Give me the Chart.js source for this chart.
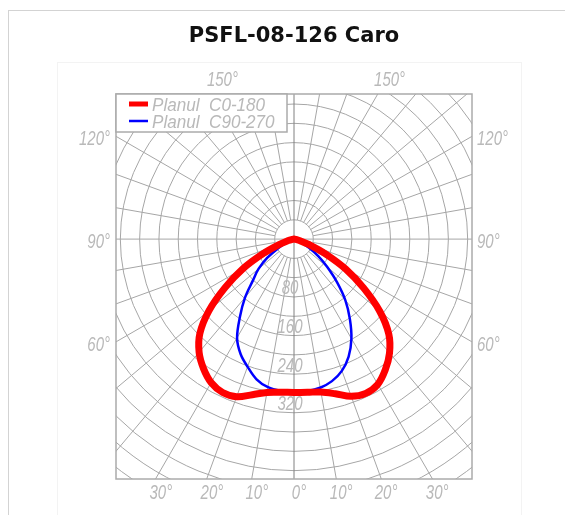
<!DOCTYPE html>
<html>
<head>
<meta charset="utf-8">
<title>PSFL-08-126 Caro</title>
<script src="https://cdn.jsdelivr.net/npm/chart.js@4.4.0/dist/chart.umd.min.js"></script>
<style>
  html, body { margin: 0; padding: 0; background: #fff; width: 565px; height: 515px; overflow: hidden; }
  #card { position: absolute; left: 8px; top: 10px; width: 620px; height: 560px; border: 1px solid #d3d3d3; }
  #frame { position: absolute; left: 57px; top: 62px; width: 463px; height: 470px; border: 1px solid #f3f3f3; }
  #chart { position: absolute; left: 0; top: 0; }
</style>
</head>
<body>
<div id="card"></div>
<div id="frame"></div>
<canvas id="chart" width="565" height="515"></canvas>
<script>
(function () {
    "use strict";

    // Unghiuri fata de verticala (0 = in jos), cd/klm pe fiecare semiplan
    const angles = [0, 5, 10, 15, 20, 25, 30, 35, 40, 45, 50, 55, 60, 65, 70, 75, 80, 85, 90];
    const planC0 = [317, 318, 321, 331, 346, 352, 347, 330, 308, 278, 232, 176, 124, 72, 34, 13, 4, 1, 0];
    const planC180 = [317, 318, 322, 333, 347, 350, 343, 327, 306, 276, 230, 174, 122, 70, 33, 12, 4, 1, 0];
    const planC90 = [316, 315, 312, 304, 290, 268, 238, 202, 166, 126, 90, 62, 36, 18, 8, 3, 1, 0, 0];
    const planC270 = [316, 315, 311, 300, 281, 262, 236, 195, 158, 120, 96, 68, 38, 19, 8, 3, 1, 0, 0];

    // Etichete
    const radialTicks = [80, 160, 240, 320];
    const bottomTicks = [-30, -20, -10, 0, 10, 20, 30];
    const sideTicks = [60, 90, 120];
    const topTicks = [150];

    const rad = (d) => d * Math.PI / 180;

    // semiplan stang (invers) + semiplan drept -> curba x/y
    const toPoints = (left, right) => {
        const pts = [];
        for (let i = angles.length - 1; i >= 0; i--) {
            const a = rad(angles[i]);
            pts.push({ x: -left[i] * Math.sin(a), y: -left[i] * Math.cos(a) });
        }
        for (let i = 1; i < angles.length; i++) {
            const a = rad(angles[i]);
            pts.push({ x: right[i] * Math.sin(a), y: -right[i] * Math.cos(a) });
        }
        return pts;
    };

    const labelFont = 'italic 20px "Liberation Sans", sans-serif';
    const labelColor = "#b9b9b9";

    // text ingust (font CAD)
    const narrowText = (ctx, text, x, y, sx) => {
        ctx.save();
        ctx.translate(x, y);
        ctx.scale(sx, 1);
        ctx.fillText(text, 0, 0);
        ctx.restore();
    };

    const polarGrid = {
        id: "polarGrid",
        beforeDatasetsDraw(chart) {
            const { ctx, chartArea: area, scales: { x, y } } = chart;
            const cx = x.getPixelForValue(0);
            const cy = y.getPixelForValue(0);
            const px = (v) => x.getPixelForValue(v) - cx;

            ctx.save();
            ctx.beginPath();
            ctx.rect(area.left, area.top, area.width, area.height);
            ctx.clip();
            ctx.strokeStyle = "#a6a6a6";
            ctx.lineWidth = 1;
            for (let r = 40; r <= 680; r += 40) {
                ctx.beginPath();
                ctx.arc(cx, cy, px(r), 0, Math.PI * 2);
                ctx.stroke();
            }
            for (let a = 0; a < 360; a += 10) {
                const inner = a % 90 === 0 ? 0 : px(40);
                const outer = px(900);
                const s = Math.sin(rad(a)), c = Math.cos(rad(a));
                ctx.beginPath();
                ctx.moveTo(cx + inner * s, cy + inner * c);
                ctx.lineTo(cx + outer * s, cy + outer * c);
                ctx.strokeStyle = a === 0 || a === 180 ? "#808080" : "#a6a6a6";
                ctx.stroke();
            }
            ctx.restore();

            ctx.save();
            ctx.strokeStyle = "#ababab";
            ctx.lineWidth = 1.5;
            ctx.strokeRect(area.left, area.top, area.width, area.height);

            ctx.font = labelFont;
            ctx.fillStyle = labelColor;
            ctx.textAlign = "center";
            ctx.textBaseline = "top";
            radialTicks.forEach((v) => {
                narrowText(ctx, String(v), cx - 4, y.getPixelForValue(-v) + 1, 0.75);
            });
            ctx.restore();
        },
        afterDatasetsDraw(chart) {
            const { ctx, chartArea: area, scales: { x, y } } = chart;

            ctx.save();
            ctx.font = labelFont;
            ctx.fillStyle = labelColor;
            ctx.textBaseline = "alphabetic";

            // jos
            ctx.textAlign = "center";
            bottomTicks.forEach((t) => {
                const xp = x.getPixelForValue(Math.abs(y.min) * Math.tan(rad(t)));
                narrowText(ctx, Math.abs(t) + "°", xp + 5, area.bottom + 20, 0.75);
            });
            // sus
            topTicks.forEach((t) => {
                const off = y.max * Math.tan(rad(180 - t));
                [-off, off].forEach((v) => {
                    narrowText(ctx, t + "°", x.getPixelForValue(v) + 12, area.top - 8, 0.75);
                });
            });
            // laterale
            sideTicks.forEach((t) => {
                const yp = y.getPixelForValue(-x.max / Math.tan(rad(t)));
                ctx.textAlign = "right";
                narrowText(ctx, t + "°", area.left - 6, yp + 9, 0.75);
                ctx.textAlign = "left";
                narrowText(ctx, t + "°", area.right + 5, yp + 9, 0.75);
            });

            // legenda
            const bx = area.left, by = area.top, bw = 171, bh = 38;
            ctx.fillStyle = "#fff";
            ctx.fillRect(bx, by, bw, bh);
            ctx.strokeStyle = "#ababab";
            ctx.lineWidth = 1.5;
            ctx.strokeRect(bx, by, bw, bh);
            ctx.font = 'italic 19px "Liberation Sans", sans-serif';
            ctx.textAlign = "left";
            chart.data.datasets.forEach((ds, i) => {
                const ry = by + 10 + i * 17;
                ctx.beginPath();
                ctx.moveTo(bx + 13, ry);
                ctx.lineTo(bx + 32, ry);
                ctx.strokeStyle = ds.borderColor;
                ctx.lineWidth = Math.min(ds.borderWidth, 5);
                ctx.stroke();
                ctx.fillStyle = labelColor;
                narrowText(ctx, ds.label, bx + 36, ry + 7, 0.9);
            });
            ctx.restore();
        },
    };

    const ctx = document.getElementById("chart").getContext("2d");
    new Chart(ctx, {
        type: "scatter",
        data: {
            datasets: [
                {
                    label: "Planul  C0-180",
                    data: toPoints(planC180, planC0),
                    showLine: true,
                    borderColor: "#ff0000",
                    borderWidth: 7,
                    tension: 0.35,
                    pointRadius: 0,
                    borderCapStyle: "round",
                    borderJoinStyle: "round",
                },
                {
                    label: "Planul  C90-270",
                    data: toPoints(planC270, planC90),
                    showLine: true,
                    borderColor: "#0000ff",
                    borderWidth: 2.5,
                    tension: 0.35,
                    pointRadius: 0,
                    borderCapStyle: "round",
                    borderJoinStyle: "round",
                },
            ],
        },
        options: {
            responsive: false,
            animation: false,
            devicePixelRatio: 1,
            layout: {
                padding: { left: 116, right: 93, top: 0, bottom: 36 },
            },
            scales: {
                x: { type: "linear", display: false, min: -369, max: 369 },
                y: { type: "linear", display: false, min: -496, max: 300 },
            },
            plugins: {
                legend: { display: false },
                tooltip: { enabled: false },
                title: {
                    display: true,
                    text: "PSFL-08-126 Caro",
                    color: "#111",
                    font: { family: "'DejaVu Sans', sans-serif", size: 21, weight: "bold", lineHeight: 1.2 },
                    padding: { top: 24, bottom: 44.8 },
                },
            },
        },
        plugins: [polarGrid],
    });
})();
</script>
</body>
</html>
